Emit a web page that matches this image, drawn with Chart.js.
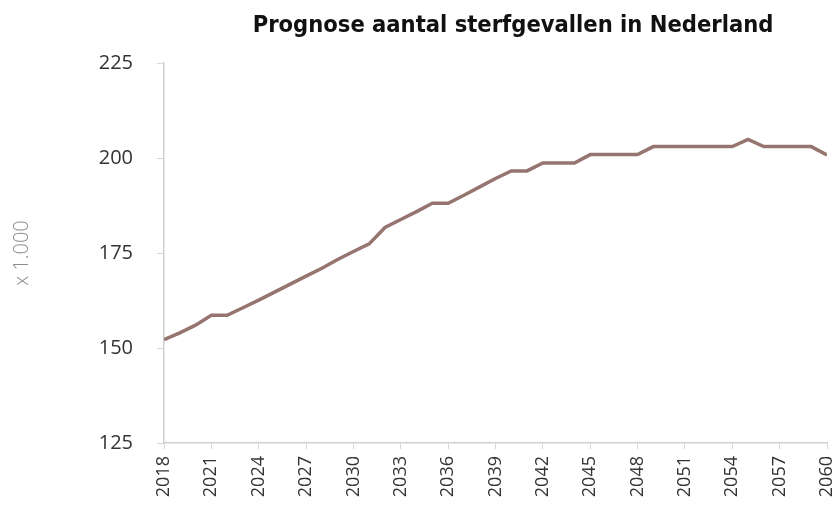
<!DOCTYPE html>
<html>
<head>
<meta charset="utf-8">
<script src="https://cdn.jsdelivr.net/npm/chart.js@4"></script>
<style>
    html, body { margin: 0; padding: 0; background: #ffffff; }
    #wrap { width: 837px; height: 525px; position: relative; }
</style>
</head>
<body>
<div id="wrap"><canvas id="deathsChart" width="837" height="525"></canvas></div>
<script>
// Chart data (x 1.000)
const years = [
    2018, 2019, 2020, 2021, 2022, 2023, 2024, 2025, 2026, 2027,
    2028, 2029, 2030, 2031, 2032, 2033, 2034, 2035, 2036, 2037,
    2038, 2039, 2040, 2041, 2042, 2043, 2044, 2045, 2046, 2047,
    2048, 2049, 2050, 2051, 2052, 2053, 2054, 2055, 2056, 2057,
    2058, 2059, 2060
];
const deaths = [
    152.2, 154.0, 156.0, 158.6, 158.6, 160.6, 162.6, 164.7, 166.8, 168.9,
    171.0, 173.3, 175.4, 177.4, 181.7, 183.8, 185.9, 188.1, 188.1, 190.2,
    192.4, 194.6, 196.6, 196.6, 198.7, 198.7, 198.7, 200.9, 200.9, 200.9,
    200.9, 203.0, 203.0, 203.0, 203.0, 203.0, 203.0, 204.9, 203.0, 203.0,
    203.0, 203.0, 200.8
];
const xTickYears = [2018, 2021, 2024, 2027, 2030, 2033, 2036, 2039, 2042, 2045, 2048, 2051, 2054, 2057, 2060];
const yTicks = [125, 150, 175, 200, 225];

const chartTitle = 'Prognose aantal sterfgevallen in Nederland';
const yAxisTitle = 'x 1.000';

// Title drawn at the same spot as the original
const titlePlugin = {
    id: 'titleAt',
    afterDraw(chart) {
        const ctx = chart.ctx;
        ctx.save();
        ctx.font = 'bold 23.5px "Liberation Sans Narrow", "DejaVu Sans Condensed", sans-serif';
        ctx.fillStyle = '#111111';
        ctx.textAlign = 'center';
        ctx.textBaseline = 'alphabetic';
        ctx.fillText(chartTitle, 513, 32);
        ctx.restore();
    }
};

const points = years.map((y, i) => ({ x: y, y: deaths[i] }));

const ctx = document.getElementById('deathsChart').getContext('2d');
new Chart(ctx, {
    type: 'line',
    data: {
        datasets: [{
            label: 'Sterfgevallen',
            data: points,
            borderColor: '#967470',
            borderWidth: 3.5,
            pointRadius: 0,
            fill: false,
            tension: 0
        }]
    },
    options: {
        responsive: false,
        animation: false,
        layout: { padding: { top: 63, right: 0, left: 0, bottom: 0 } },
        plugins: {
            legend: { display: false },
            tooltip: { enabled: false }
        },
        scales: {
            x: {
                type: 'linear',
                min: years[0],
                max: years[years.length - 1],
                afterBuildTicks: (scale) => {
                    scale.ticks = xTickYears.map(v => ({ value: v }));
                },
                afterFit: (scale) => {
                    scale.height = 82;
                    scale.paddingRight = 10;
                    scale.paddingLeft = 0;
                },
                grid: { drawOnChartArea: false, drawTicks: true, tickLength: 6, color: '#d6d6d6' },
                border: { color: '#d0d0d0', width: 1.5 },
                ticks: {
                    autoSkip: false,
                    minRotation: 90,
                    maxRotation: 90,
                    padding: 7,
                    color: '#333333',
                    font: { family: '"Open Sans", sans-serif', size: 18 },
                    callback: (value) => String(value)
                }
            },
            y: {
                min: 125,
                max: 225,
                afterBuildTicks: (scale) => {
                    scale.ticks = yTicks.map(v => ({ value: v }));
                },
                afterFit: (scale) => { scale.width = 164; },
                grid: { drawOnChartArea: false, drawTicks: true, tickLength: 7, color: '#d6d6d6' },
                border: { color: '#d0d0d0', width: 1.5 },
                title: {
                    display: true,
                    text: yAxisTitle,
                    color: '#8c8c8c',
                    padding: { top: 10, bottom: 0 },
                    font: { family: '"Open Sans", sans-serif', size: 20, weight: '300' }
                },
                ticks: {
                    padding: 24,
                    color: '#333333',
                    font: { family: '"Open Sans", sans-serif', size: 20 }
                }
            }
        }
    },
    plugins: [titlePlugin]
});
</script>
</body>
</html>
